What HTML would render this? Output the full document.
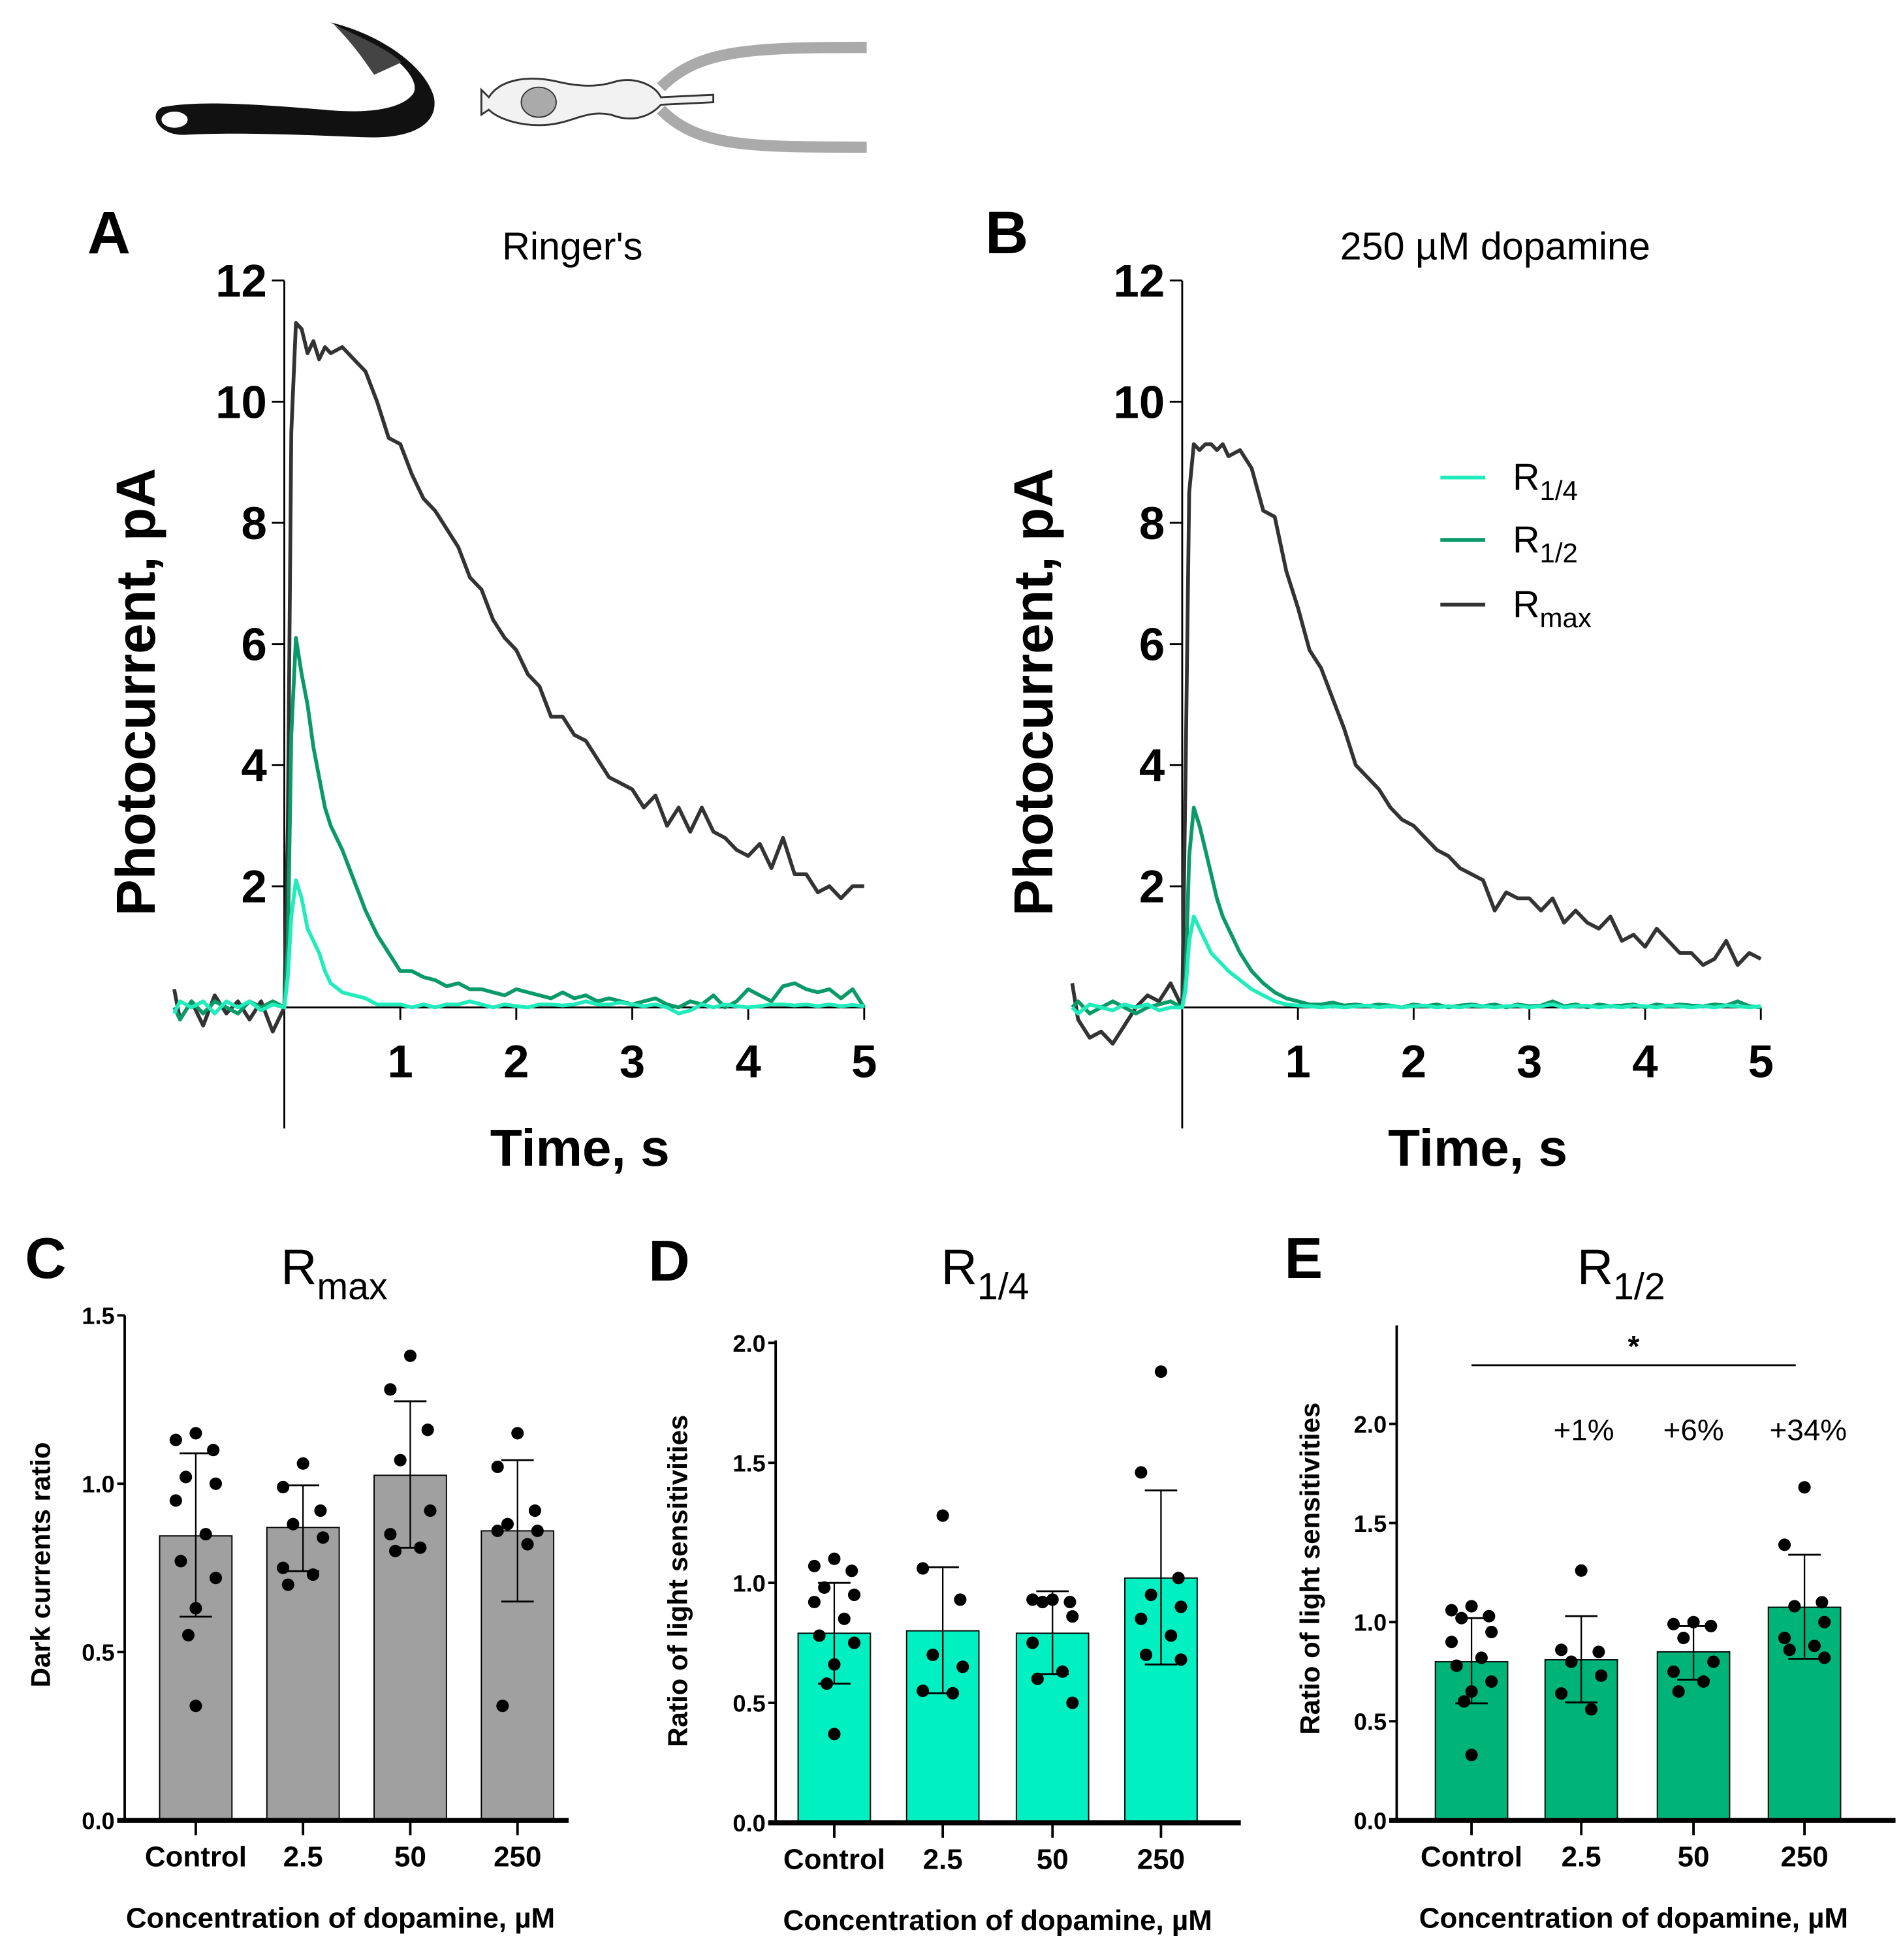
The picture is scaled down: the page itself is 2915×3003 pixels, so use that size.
<!DOCTYPE html>
<html><head><meta charset="utf-8"><style>
html,body{margin:0;padding:0;background:#fff}
svg{display:block;font-family:"Liberation Sans",Arial,sans-serif}
</style></head><body>
<svg id="fig" width="2915" height="3003" viewBox="0 0 1526 1572" preserveAspectRatio="none" xmlns="http://www.w3.org/2000/svg">
<g>
 <path d="M130,86 C160,80 210,84 260,88 C300,92 325,86 332,74 C336,62 318,45 295,34 L265,18 C300,26 340,50 348,78 C352,100 330,112 290,110 C240,108 190,106 150,108 C128,110 118,92 130,86 Z" fill="#111"/>
 <path d="M268,20 C290,30 312,40 322,50 L300,60 C290,45 280,32 268,20 Z" fill="#444"/>
 <ellipse cx="140" cy="96" rx="12" ry="8" fill="#fff" stroke="#111" stroke-width="3"/>
 <path d="M392,78 C400,65 420,60 445,65 C465,70 480,70 495,65 C510,62 525,68 530,78 L572,76 L572,82 L530,84 C520,95 505,98 490,92 C470,88 460,98 440,100 C420,102 400,96 392,88 L386,92 L386,72 Z" fill="#f2f2f2" stroke="#333" stroke-width="1.5"/>
 <ellipse cx="432" cy="82" rx="14" ry="12" fill="#aaa" stroke="#333"/>
 <path d="M530,70 C560,40 600,38 695,38 M530,88 C560,118 600,118 695,118" fill="none" stroke="#aaa" stroke-width="9"/>
</g>
<g id="root"></g>
</svg>
<script>
const traceTimes = [-0.95,-0.9,-0.8,-0.7,-0.6,-0.5,-0.4,-0.3,-0.2,-0.1,0,0.03,0.06,0.1,0.15,0.2,0.25,0.3,0.35,
0.4,0.5,0.6,0.7,0.8,0.9,1.0,1.1,1.2,1.3,1.4,1.5,1.6,1.7,1.8,1.9,2.0,2.1,2.2,2.3,2.4,2.5,2.6,2.7,2.8,2.9,3.0,3.1,3.2,3.3,3.4,3.5,3.6,3.7,3.8,3.9,4.0,4.1,4.2,4.3,4.4,4.5,4.6,4.7,4.8,4.9,5.0];
const aRmax = [0.3,-0.2,0.1,-0.3,0.2,-0.1,0.1,-0.2,0.1,-0.4,0, 3,9.5,11.3,11.2,10.8,11.0,10.7,10.9,
10.8,10.9,10.7,10.5,10.0,9.4,9.3,8.8,8.4,8.2,7.9,7.6,7.1,6.9,6.4,6.1,5.9,5.5,5.3,4.8,4.8,4.5,4.4,4.1,3.8,3.7,3.6,3.3,3.5,3.0,3.3,2.9,3.3,2.9,2.8,2.6,2.5,2.7,2.3,2.8,2.2,2.2,1.9,2.0,1.8,2.0,2.0];
const aRhalf = [0,-0.2,0.1,-0.1,0.1,0,-0.1,0.1,0,0.1,0, 1,4.5,6.1,5.5,5.0,4.3,3.8,3.3,
3.0,2.6,2.1,1.6,1.2,0.9,0.6,0.6,0.5,0.45,0.35,0.4,0.3,0.3,0.25,0.2,0.3,0.25,0.2,0.15,0.25,0.15,0.2,0.1,0.15,0.1,0.05,0.1,0.15,0.05,0,0.1,0.05,0.2,0,0.1,0.3,0.2,0.1,0.35,0.4,0.3,0.25,0.3,0.15,0.3,0.0];
const aRquarter = [-0.1,0.1,0,0.1,-0.1,0.1,0,0.1,-0.05,0.05,0, 0.5,1.5,2.1,1.8,1.3,1.1,0.9,0.6,
0.4,0.25,0.2,0.15,0.05,0.05,0.05,0,0.05,0,0.05,0.05,0.1,0.05,0,0.05,0.02,0,0.05,0.05,0.03,0.05,0.1,0.05,0.05,0.08,0.05,0.02,0.05,0,-0.1,-0.05,0.05,0,0.05,0.02,0,0.02,0.05,0.05,0.03,0.05,0.02,0.05,0.02,0.04,0.02];
const bRmax = [0.4,-0.2,-0.5,-0.4,-0.6,-0.3,0,0.2,0.1,0.4,0, 4,8.5,9.3,9.2,9.3,9.3,9.2,9.3,
9.1,9.2,8.9,8.2,8.1,7.2,6.6,5.9,5.6,5.1,4.6,4.0,3.8,3.6,3.3,3.1,3.0,2.8,2.6,2.5,2.3,2.2,2.1,1.6,1.9,1.8,1.8,1.6,1.8,1.4,1.6,1.4,1.3,1.5,1.1,1.2,1.0,1.3,1.1,0.9,0.9,0.7,0.8,1.1,0.7,0.9,0.8];
const bRhalf = [0,0.1,-0.1,0,0.1,0,-0.1,0,0.05,0.1,0, 0.5,2.5,3.3,3.0,2.6,2.2,1.8,1.5,
1.3,0.9,0.6,0.4,0.25,0.15,0.1,0.05,0.05,0.08,0.03,0.05,0.02,0.05,0.03,0,0.05,0.02,0.05,0,0.03,0.05,0.02,0.05,0,0.05,0.02,0.03,0.1,0.02,0.05,0,0.05,0.02,0.03,0.05,0,0.05,0.02,0.05,0.03,0.02,0.05,0.03,0.1,0.02,0];
const bRquarter = [0,-0.1,0.05,0,-0.05,0.05,0,0.05,-0.05,0,0, 0.3,1.1,1.5,1.3,1.1,0.9,0.8,0.7,
0.6,0.45,0.3,0.2,0.1,0.05,0.03,0.02,0,0.02,0,0.02,0.03,0,0.02,0,0.02,0.03,0,0.02,0,0.03,0.02,0,0.02,0.03,0,0.02,0.05,0,0.02,0.03,0,0.02,0,0.03,0.02,0,0.03,0.02,0,0.02,0,0.03,0.02,0,0.02];
const yTicksTrace = [2,4,6,8,10,12];
const xTicksTrace = [1,2,3,4,5];

const barCats = ["Control","2.5","50","250"];
const cMeans = [0.845,0.87,1.025,0.86];
const cErrHi = [1.09,0.995,1.245,1.07];
const cErrLo = [0.605,0.74,0.81,0.65];
const cDots = [[1.15,1.13,1.1,1.02,1.0,0.95,0.85,0.77,0.72,0.63,0.55,0.34],[1.06,0.99,0.92,0.88,0.84,0.75,0.73,0.70],[1.38,1.28,1.16,1.07,0.92,0.85,0.81,0.80],[1.15,1.05,0.92,0.88,0.86,0.86,0.82,0.34]];
const dMeans = [0.79,0.80,0.79,1.02];
const dErrHi = [1.0,1.065,0.965,1.385];
const dErrLo = [0.58,0.54,0.62,0.66];
const dDots = [[1.1,1.07,1.05,0.98,0.95,0.92,0.85,0.78,0.75,0.66,0.58,0.37],[1.28,1.06,0.93,0.7,0.65,0.55,0.54],[0.93,0.93,0.92,0.92,0.86,0.75,0.63,0.6,0.5],[1.88,1.46,1.02,0.95,0.9,0.85,0.78,0.7,0.68]];
const eMeans = [0.80,0.81,0.85,1.075];
const eErrHi = [1.02,1.03,0.98,1.34];
const eErrLo = [0.59,0.595,0.71,0.815];
const eDots = [[1.08,1.06,1.03,1.02,0.95,0.9,0.82,0.78,0.7,0.65,0.6,0.33],[1.26,0.86,0.85,0.8,0.73,0.64,0.56],[1.0,0.99,0.98,0.92,0.8,0.75,0.7,0.65],[1.68,1.39,1.1,1.08,1.0,0.92,0.88,0.86,0.82]];
const ePercent = ["","+1%","+6%","+34%"];
const cTicks = [0.0,0.5,1.0,1.5];
const dTicks = [0.0,0.5,1.0,1.5,2.0];
const eTicks = [0.0,0.5,1.0,1.5,2.0];

const NS="http://www.w3.org/2000/svg";
const root=document.getElementById('root');
function mk(tag,attrs,parent,txt){const e=document.createElementNS(NS,tag);for(const k in attrs)e.setAttribute(k,attrs[k]);if(txt!==undefined)e.textContent=txt;(parent||root).appendChild(e);return e;}

function tracePanel(ax0,dataSets,letter,title,titleX,key){
  const g=mk('g',{});
  
  
  const y0=808,ppu=(808-225)/12,pps=key==='a'?93:92.8;
  const X=t=>ax0+t*pps, Y=v=>y0-v*ppu;
  const yax=mk('line',{x1:ax0,y1:225,x2:ax0,y2:905,stroke:'#000','stroke-width':1.5},g);
  
  
  const xax=mk('line',{x1:ax0,y1:y0,x2:X(5),y2:y0,stroke:'#000','stroke-width':1.5},g);
  
  
  yTicksTrace.forEach(v=>{
    mk('line',{x1:ax0-10,y1:Y(v),x2:ax0,y2:Y(v),stroke:'#000','stroke-width':1.5},g);
    const t=mk('text',{x:ax0-14,y:Y(v)+13,'text-anchor':'end','font-size':37,'font-weight':'bold'},g,v);
    
    
  });
  xTicksTrace.forEach(v=>{
    mk('line',{x1:X(v),y1:y0,x2:X(v),y2:y0+10,stroke:'#000','stroke-width':1.5},g);
    const t=mk('text',{x:X(v),y:y0+56,'text-anchor':'middle','font-size':37,'font-weight':'bold'},g,v);
    
    
  });
  dataSets.forEach(ds=>{
    const pts=traceTimes.map((t,i)=>X(t).toFixed(1)+','+Y(ds.v[i]).toFixed(1)).join(' ');
    const p=mk('polyline',{points:pts,fill:'none',stroke:ds.c,'stroke-width':3,'stroke-linejoin':'round'},g);
    
    
  });
  const yl=mk('text',{transform:`translate(${ax0-104},555) rotate(-90)`,'text-anchor':'middle','font-size':44,'font-weight':'bold'},g,'Photocurrent, pA');
  
  
  const xl=mk('text',{x:ax0+237,y:935,'text-anchor':'middle','font-size':42,'font-weight':'bold'},g,'Time, s');
  
  
  const L=mk('text',{x:ax0-158,y:203,'font-size':48,'font-weight':'bold'},g,letter);
  
  
  const T=mk('text',{x:titleX,y:208,'text-anchor':'middle','font-size':31},g,title);
  
  
}
tracePanel(228,[{v:aRmax,c:'#333',n:'trace-rmax'},{v:aRhalf,c:'#0a9a68',n:'trace-r-half'},{v:aRquarter,c:'#22ecbc',n:'trace-r-quarter'}],'A',"Ringer's",459,'a');
tracePanel(948,[{v:bRmax,c:'#333',n:'trace-rmax'},{v:bRhalf,c:'#0a9a68',n:'trace-r-half'},{v:bRquarter,c:'#22ecbc',n:'trace-r-quarter'}],'B',"250 µM dopamine",1199,'b');

const leg=mk('g',{});


[['#22ecbc','1/4',383],['#0a9a68','1/2',433],['#333','max',485]].forEach(([c,s,y])=>{
  mk('line',{x1:1155,y1:y,x2:1191,y2:y,stroke:c,'stroke-width':3},leg);
  const t=mk('text',{x:1213,y:y+10,'font-size':30},leg);
  
  
  mk('tspan',{},t,'R');
  mk('tspan',{'font-size':22,dy:8},t,s);
});

function barPanel(cfg){
  const g=mk('g',{});
  
  
  const Y=v=>cfg.y0-v*cfg.ppu;
  cfg.means.forEach((m,i)=>{
    const cx=cfg.cx[i];
    const b=mk('rect',{x:cx-29,y:Y(m),width:58,height:cfg.y0-Y(m),fill:cfg.fill,stroke:'#000','stroke-width':1},g);
    
    
    mk('line',{x1:cx,y1:Y(cfg.hi[i]),x2:cx,y2:Y(cfg.lo[i]),stroke:'#000','stroke-width':1.2},g);
    mk('line',{x1:cx-13,y1:Y(cfg.hi[i]),x2:cx+13,y2:Y(cfg.hi[i]),stroke:'#000','stroke-width':1.5},g);
    mk('line',{x1:cx-13,y1:Y(cfg.lo[i]),x2:cx+13,y2:Y(cfg.lo[i]),stroke:'#000','stroke-width':1.5},g);
    cfg.dots[i].forEach((v,j)=>{
      const off=[0,-16,14,-8,16,-16,8,-12,16,0,-6,0][j%12];
      const d=mk('circle',{cx:cx+off,cy:Y(v),r:5,fill:'#000'},g);
      
      
    });
    mk('line',{x1:cx,y1:cfg.y0,x2:cx,y2:cfg.y0+12,stroke:'#000','stroke-width':2},g);
    const t=mk('text',{x:cx,y:cfg.y0+37,'text-anchor':'middle','font-size':23,'font-weight':'bold'},g,barCats[i]);
    
    
  });
  mk('line',{x1:cfg.ax,y1:cfg.top,x2:cfg.ax,y2:cfg.y0,stroke:'#000','stroke-width':2},g);
  const xa=mk('line',{x1:cfg.ax-6,y1:cfg.y0,x2:cfg.xend,y2:cfg.y0,stroke:'#000','stroke-width':4},g);
  
  
  cfg.ticks.forEach(v=>{
    mk('line',{x1:cfg.ax-6,y1:Y(v),x2:cfg.ax,y2:Y(v),stroke:'#000','stroke-width':2},g);
    const t=mk('text',{x:cfg.ax-8,y:Y(v)+7,'text-anchor':'end','font-size':19,'font-weight':'bold'},g,v.toFixed(1));
    
    
  });
  const xl=mk('text',{x:cfg.tx,y:cfg.y0+86,'text-anchor':'middle','font-size':23,'font-weight':'bold'},g,'Concentration of dopamine, µM');
  
  
  const yl=mk('text',{transform:`translate(${cfg.ylx},${cfg.yly}) rotate(-90)`,'text-anchor':'middle','font-size':22,'font-weight':'bold'},g,cfg.ylabel);
  
  
  const L=mk('text',{x:cfg.lx,y:cfg.ly,'font-size':46,'font-weight':'bold'},g,cfg.letter);
  
  
  const T=mk('text',{x:cfg.ttx,y:cfg.tty,'text-anchor':'middle','font-size':40},g);
  
  
  mk('tspan',{},T,'R');
  mk('tspan',{'font-size':30,dy:12},T,cfg.sub);
  return {g,Y};
}
barPanel({key:'c',y0:1460,ppu:270,ax:100,top:1055,xend:456,cx:[157,243,329,415],means:cMeans,hi:cErrHi,lo:cErrLo,dots:cDots,fill:'#a0a0a0',ticks:cTicks,tx:273,ylx:40,yly:1255,ylabel:'Dark currents ratio',letter:'C',lx:20,ly:1025,ttx:268,tty:1030,sub:'max'});
barPanel({key:'d',y0:1462,ppu:192.5,ax:622,top:1075,xend:995,cx:[669,756,844,931],means:dMeans,hi:dErrHi,lo:dErrLo,dots:dDots,fill:'#00f0c2',ticks:dTicks,tx:800,ylx:551,yly:1268,ylabel:'Ratio of light sensitivities',letter:'D',lx:520,ly:1027,ttx:790,tty:1030,sub:'1/4'});
const e=barPanel({key:'e',y0:1460,ppu:159,ax:1120,top:1063,xend:1520,cx:[1180,1268,1358,1447],means:eMeans,hi:eErrHi,lo:eErrLo,dots:eDots,fill:'#00b378',ticks:eTicks,tx:1310,ylx:1058,yly:1258,ylabel:'Ratio of light sensitivities',letter:'E',lx:1030,ly:1025,ttx:1300,tty:1030,sub:'1/2'});
const sig=mk('line',{x1:1180,y1:1095,x2:1440,y2:1095,stroke:'#000','stroke-width':1.5},e.g);


const st=mk('text',{x:1310,y:1088,'text-anchor':'middle','font-size':24,'font-weight':'bold'},e.g,'*');


[1270,1358,1450].forEach((x,i)=>{
  const t=mk('text',{x:x,y:1155,'text-anchor':'middle','font-size':24},e.g,ePercent[i+1]);
  
  
});
</script>
</body></html>
